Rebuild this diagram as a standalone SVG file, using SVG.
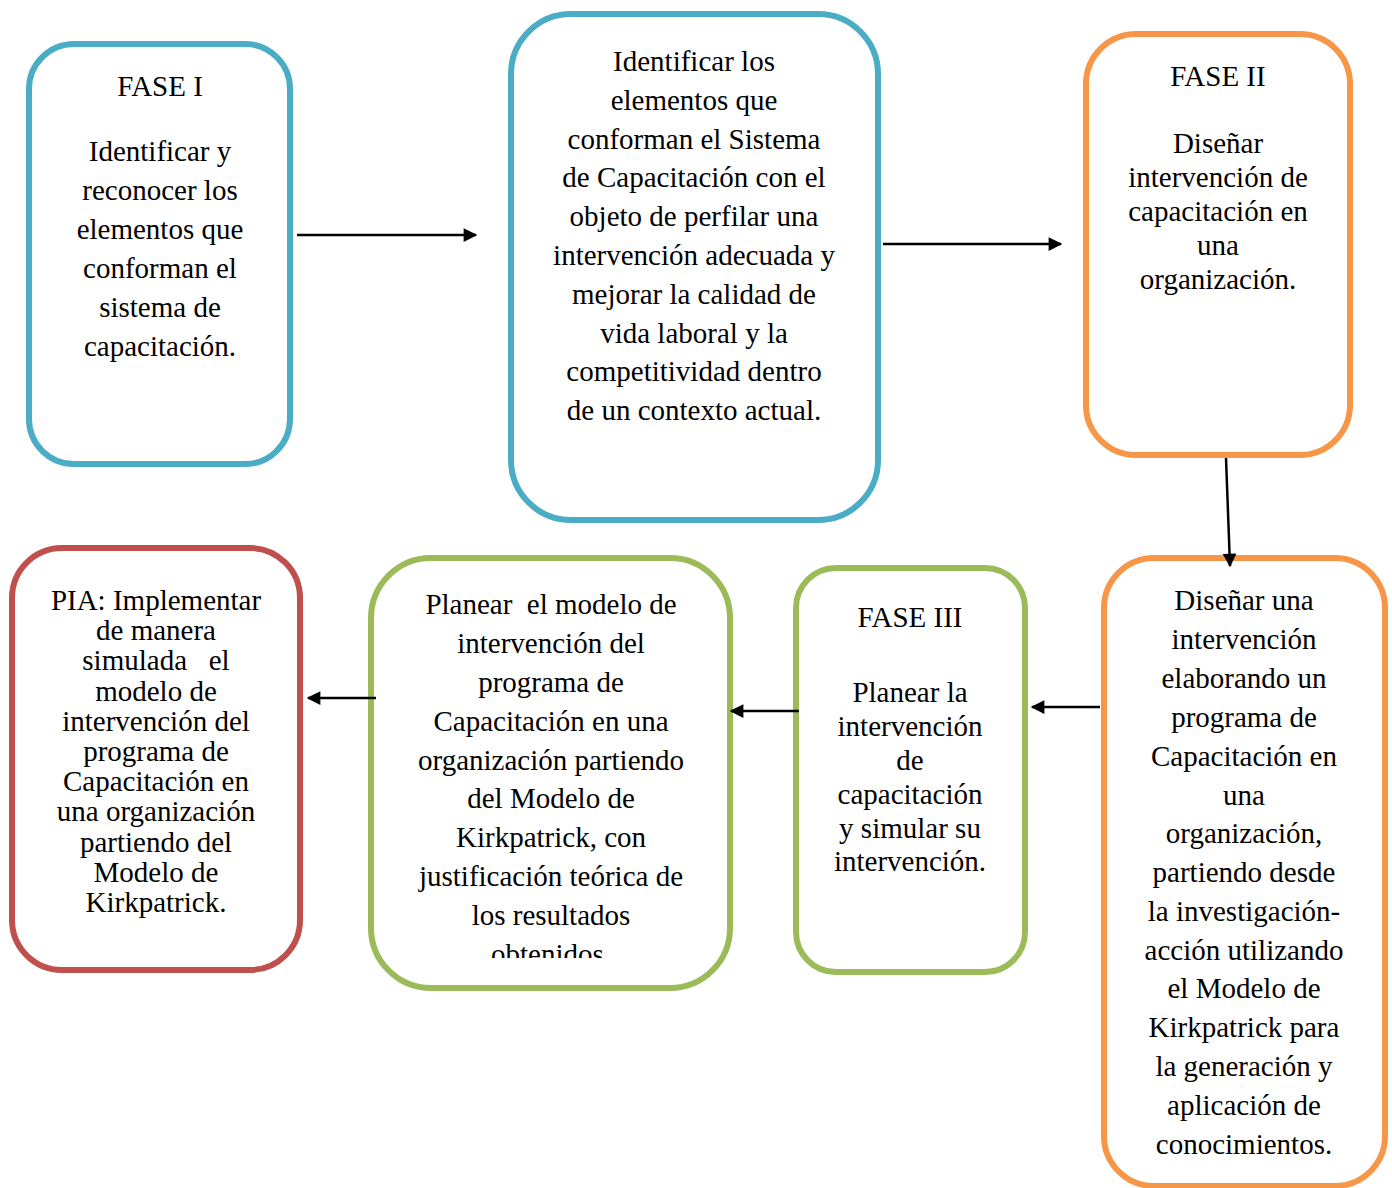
<svg xmlns="http://www.w3.org/2000/svg" width="1392" height="1188" viewBox="0 0 1392 1188">
<style>
.box{fill:#fff;stroke-width:6}
.blue{stroke:#4BACC6}.orange{stroke:#F79646}.green{stroke:#9BBB59}.red{stroke:#C0504D}
text{font-family:"Liberation Serif","Times New Roman",serif;font-size:29px;fill:#000;text-anchor:middle;white-space:pre}
.conn{stroke:#000;stroke-width:2.5;fill:none;marker-end:url(#ah)}
</style>
<defs>
<marker id="ah" viewBox="0 0 10 10" refX="9" refY="5" markerWidth="6" markerHeight="5.5" orient="auto" markerUnits="strokeWidth"><path d="M0,0 L10,5 L0,10 z" fill="#000"/></marker>
<clipPath id="clip6"><rect x="371" y="558" width="360" height="400"/></clipPath>
</defs>
<rect width="1392" height="1188" fill="#fff"/>
<g id="fase1">
<rect class="box blue" x="29" y="44" width="261" height="420" rx="45"/>
<text x="160" y="96">FASE I</text>
<text x="160" y="161">Identificar y</text>
<text x="160" y="200">reconocer los</text>
<text x="160" y="239">elementos que</text>
<text x="160" y="278">conforman el</text>
<text x="160" y="317">sistema de</text>
<text x="160" y="356">capacitación.</text>
</g>
<g id="objetivo1">
<rect class="box blue" x="511" y="14" width="367" height="506" rx="60"/>
<text x="694" y="71">Identificar los</text>
<text x="694" y="110">elementos que</text>
<text x="694" y="149">conforman el Sistema</text>
<text x="694" y="187">de Capacitación con el</text>
<text x="694" y="226">objeto de perfilar una</text>
<text x="694" y="265">intervención adecuada y</text>
<text x="694" y="304">mejorar la calidad de</text>
<text x="694" y="343">vida laboral y la</text>
<text x="694" y="381">competitividad dentro</text>
<text x="694" y="420">de un contexto actual.</text>
</g>
<g id="fase2">
<rect class="box orange" x="1086" y="34" width="264" height="421" rx="50"/>
<text x="1218" y="86">FASE II</text>
<text x="1218" y="153">Diseñar</text>
<text x="1218" y="187">intervención de</text>
<text x="1218" y="221">capacitación en</text>
<text x="1218" y="255">una</text>
<text x="1218" y="289">organización.</text>
</g>
<g id="objetivo2">
<rect class="box orange" x="1104" y="558" width="281" height="628" rx="50"/>
<text x="1244" y="610">Diseñar una</text>
<text x="1244" y="649">intervención</text>
<text x="1244" y="688">elaborando un</text>
<text x="1244" y="727">programa de</text>
<text x="1244" y="766">Capacitación en</text>
<text x="1244" y="805">una</text>
<text x="1244" y="843">organización,</text>
<text x="1244" y="882">partiendo desde</text>
<text x="1244" y="921">la investigación-</text>
<text x="1244" y="960">acción utilizando</text>
<text x="1244" y="998">el Modelo de</text>
<text x="1244" y="1037">Kirkpatrick para</text>
<text x="1244" y="1076">la generación y</text>
<text x="1244" y="1115">aplicación de</text>
<text x="1244" y="1154">conocimientos.</text>
</g>
<g id="fase3">
<rect class="box green" x="796" y="568" width="229" height="404" rx="40"/>
<text x="910" y="627">FASE III</text>
<text x="910" y="702">Planear la</text>
<text x="910" y="736">intervención</text>
<text x="910" y="770">de</text>
<text x="910" y="804">capacitación</text>
<text x="910" y="838">y simular su</text>
<text x="910" y="871">intervención.</text>
</g>
<g id="objetivo3">
<rect class="box green" x="371" y="558" width="359" height="430" rx="60"/>
<g clip-path="url(#clip6)">
<text x="551" y="614">Planear  el modelo de</text>
<text x="551" y="653">intervención del</text>
<text x="551" y="692">programa de</text>
<text x="551" y="731">Capacitación en una</text>
<text x="551" y="770">organización partiendo</text>
<text x="551" y="808">del Modelo de</text>
<text x="551" y="847">Kirkpatrick, con</text>
<text x="551" y="886">justificación teórica de</text>
<text x="551" y="925">los resultados</text>
<text x="551" y="964">obtenidos.</text>
</g>
</g>
<g id="pia">
<rect class="box red" x="12" y="548" width="288" height="422" rx="50"/>
<text x="156" y="610">PIA: Implementar</text>
<text x="156" y="640">de manera</text>
<text x="156" y="670">simulada   el</text>
<text x="156" y="701">modelo de</text>
<text x="156" y="731">intervención del</text>
<text x="156" y="761">programa de</text>
<text x="156" y="791">Capacitación en</text>
<text x="156" y="821">una organización</text>
<text x="156" y="852">partiendo del</text>
<text x="156" y="882">Modelo de</text>
<text x="156" y="912">Kirkpatrick.</text>
</g>
<g id="connectors">
<line class="conn" x1="297" y1="235" x2="476" y2="235"/>
<line class="conn" x1="883" y1="244" x2="1061" y2="244"/>
<line class="conn" x1="1226" y1="458" x2="1230" y2="566"/>
<line class="conn" x1="1100" y1="707" x2="1032" y2="707"/>
<line class="conn" x1="799" y1="711" x2="731" y2="711"/>
<line class="conn" x1="376" y1="698" x2="308" y2="698"/>
</g>
</svg>
